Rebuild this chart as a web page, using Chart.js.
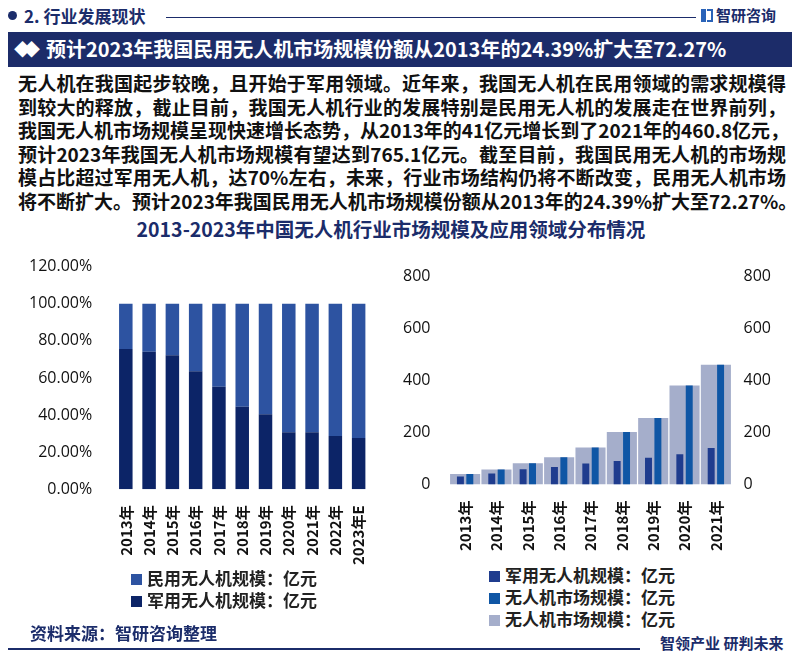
<!DOCTYPE html>
<html lang="zh">
<head>
<meta charset="UTF-8">
<title>2013-2023年中国无人机行业市场规模及应用领域分布情况</title>
<script src="https://cdn.jsdelivr.net/npm/chart.js"></script>
<style>
  body { margin: 0; width: 800px; height: 657px; position: relative; overflow: hidden; background: #fff;
         font-family: "Noto Sans CJK SC", sans-serif; }
  .abs { position: absolute; }
  .navy { color: #1b2c6a; }
  #para div { white-space: nowrap; text-align: justify; text-align-last: justify; height: 23.6px; line-height: 23.6px; }
  .legend div { height: 22px; line-height: 22px; font-size: 17px; font-weight: 700; color: #222; white-space: nowrap; }
  .legend span { display: inline-block; width: 11px; height: 11px; margin-right: 5px; vertical-align: 0px; }
</style>
</head>
<body>
  <!-- header -->
  <div class="abs" style="left:8px;top:11px;width:9px;height:9px;border-radius:50%;background:#1b2c6a;"></div>
  <div class="abs navy" style="left:24px;top:3px;font-size:17px;font-weight:700;">2. 行业发展现状</div>
  <div class="abs" style="left:166px;top:17px;width:530px;height:1px;background:#1b2c6a;"></div>
  <div class="abs" style="left:701px;top:9px;width:5px;height:13px;background:#2a63b8;"></div>
  <div class="abs" style="left:707px;top:9px;width:6px;height:13px;border:2px solid #2a63b8;border-left:none;box-sizing:border-box;"></div>
  <div class="abs navy" style="left:716px;top:4px;font-size:15px;font-weight:700;">智研咨询</div>

  <!-- banner -->
  <div class="abs" style="left:8px;top:32px;width:784px;height:35px;background:#1c2c69;"></div>
  <div class="abs" style="left:14px;top:36px;font-size:17px;color:#fff;letter-spacing:-8px;">◆◆</div>
  <div class="abs" style="left:46px;top:34px;font-size:20px;font-weight:700;color:#fff;white-space:nowrap;">预计2023年我国民用无人机市场规模份额从2013年的24.39%扩大至72.27%</div>

  <!-- paragraph -->
  <div id="para" class="abs" style="left:18px;top:71px;width:768px;font-size:19px;font-weight:700;color:#111;">
    <div>无人机在我国起步较晚，且开始于军用领域。近年来，我国无人机在民用领域的需求规模得</div>
    <div>到较大的释放，截止目前，我国无人机行业的发展特别是民用无人机的发展走在世界前列，</div>
    <div>我国无人机市场规模呈现快速增长态势，从2013年的41亿元增长到了2021年的460.8亿元，</div>
    <div>预计2023年我国无人机市场规模有望达到765.1亿元。截至目前，我国民用无人机的市场规</div>
    <div>模占比超过军用无人机，达70%左右，未来，行业市场结构仍将不断改变，民用无人机市场</div>
    <div>将不断扩大。预计2023年我国民用无人机市场规模份额从2013年的24.39%扩大至72.27%。</div>
  </div>

  <!-- chart title -->
  <div class="abs navy" style="left:0;top:214px;width:782px;text-align:center;font-size:19.5px;font-weight:700;">2013-2023年中国无人机行业市场规模及应用领域分布情况</div>

  <canvas id="shareChart" class="abs" style="left:15px;top:243px;" width="370" height="330"></canvas>
  <canvas id="sizeChart" class="abs" style="left:392px;top:256px;" width="383" height="303"></canvas>

  <div id="shareLegend" class="abs legend" style="left:131px;top:567px;"></div>
  <div id="sizeLegend" class="abs legend" style="left:489px;top:564px;"></div>

  <!-- footer -->
  <div class="abs navy" style="left:30px;top:620px;font-size:17px;font-weight:700;">资料来源：智研咨询整理</div>
  <div class="abs" style="left:8px;top:648px;width:632px;height:1.5px;background:#1b2c6a;"></div>
  <div class="abs navy" style="left:660px;top:632px;font-size:15px;font-weight:700;">智领产业 研判未来</div>

<script>
  // left chart: share of civil / military drones (%)
  const shareYears = ['2013年', '2014年', '2015年', '2016年', '2017年', '2018年', '2019年', '2020年', '2021年', '2022年', '2023年E'];
  const civilShare = [24.39, 25.8, 27.7, 36.4, 44.7, 55.5, 59.6, 69.2, 69.2, 71.2, 72.27];
  const militaryShare = [75.61, 74.2, 72.3, 63.6, 55.3, 44.5, 40.4, 30.8, 30.8, 28.8, 27.73];
  const shareTicks = [0, 20, 40, 60, 80, 100, 120];

  // right chart: market size (亿元)
  const sizeYears = ['2013年', '2014年', '2015年', '2016年', '2017年', '2018年', '2019年', '2020年', '2021年'];
  const militarySize = [31, 43, 59, 68, 81, 91, 103, 117, 141];
  const marketSize = [41, 57.6, 82, 105, 143, 202, 256, 381, 460.8];
  const sizeTicks = [0, 200, 400, 600, 800];

  const tickFont = { family: 'Open Sans', size: 16 };
  const yearFont = { family: 'Noto Sans CJK SC', size: 15, weight: 'bold' };

  function fixedTicks(values) {
    return function (axis) { axis.ticks = values.map(v => ({ value: v })); };
  }

  const shareSets = [
    { label: '民用无人机规模：亿元', data: civilShare, backgroundColor: '#2d53a1' },
    { label: '军用无人机规模：亿元', data: militaryShare, backgroundColor: '#0c2467' }
  ];

  new Chart(document.getElementById('shareChart'), {
    type: 'bar',
    data: {
      labels: shareYears,
      // military first so it sits at the bottom of the stack
      datasets: [shareSets[1], shareSets[0]].map(d => Object.assign({}, d, { barPercentage: 0.58, categoryPercentage: 1 }))
    },
    options: {
      responsive: false,
      animation: false,
      layout: { padding: { top: 4, right: 8 } },
      plugins: { legend: { display: false }, tooltip: { enabled: false } },
      scales: {
        x: {
          stacked: true,
          grid: { display: false },
          border: { display: false },
          ticks: { minRotation: 90, maxRotation: 90, font: yearFont, color: '#111', padding: 8 }
        },
        y: {
          stacked: true,
          min: shareTicks[0],
          max: shareTicks[shareTicks.length - 1],
          afterBuildTicks: fixedTicks(shareTicks),
          grid: { display: false },
          border: { display: false },
          ticks: { callback: v => v.toFixed(2) + '%', font: tickFont, color: '#111', padding: 14 }
        }
      }
    }
  });

  const sizeSets = [
    { label: '军用无人机规模：亿元', data: militarySize, backgroundColor: '#1f3c8e', categoryPercentage: 0.6, barPercentage: 0.74 },
    { label: '无人机市场规模：亿元', data: marketSize, backgroundColor: '#0f56a5', categoryPercentage: 0.6, barPercentage: 0.74 },
    { label: '无人机市场规模：亿元', data: marketSize, backgroundColor: '#a5aecb', grouped: false, categoryPercentage: 1, barPercentage: 0.96 }
  ];

  const sizeAxis = (pos) => ({
    position: pos,
    min: sizeTicks[0],
    max: sizeTicks[sizeTicks.length - 1],
    afterBuildTicks: fixedTicks(sizeTicks),
    grid: { display: false },
    border: { display: false },
    ticks: { font: tickFont, color: '#111', padding: pos === 'left' ? 11 : 4 }
  });

  new Chart(document.getElementById('sizeChart'), {
    type: 'bar',
    data: { labels: sizeYears, datasets: sizeSets },
    options: {
      responsive: false,
      animation: false,
      layout: { padding: { top: 10 } },
      plugins: { legend: { display: false }, tooltip: { enabled: false } },
      scales: {
        x: {
          grid: { display: false },
          border: { display: false },
          ticks: { minRotation: 90, maxRotation: 90, font: yearFont, color: '#111', padding: 8 }
        },
        y: sizeAxis('left'),
        y2: sizeAxis('right')
      }
    }
  });

  function buildLegend(id, sets) {
    document.getElementById(id).innerHTML = sets
      .map(d => '<div><span style="background:' + d.backgroundColor + '"></span>' + d.label + '</div>')
      .join('');
  }
  buildLegend('shareLegend', shareSets);
  buildLegend('sizeLegend', sizeSets);
</script>
</body>
</html>
